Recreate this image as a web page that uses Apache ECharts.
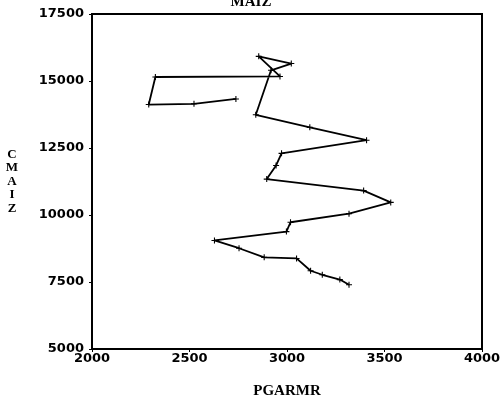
<!DOCTYPE html>
<html>
<head>
<meta charset="utf-8">
<script src="https://cdn.jsdelivr.net/npm/echarts@6/dist/echarts.min.js"></script>
<style>html,body{margin:0;padding:0;background:#fff}#c{width:502px;height:397px}</style>
</head>
<body>
<div id="c"></div>
<script>
const pgarmr = [2738, 2523, 2291, 2325, 2964, 2855, 3022, 2918, 2840, 3117, 3408, 2972, 2944, 2896, 3393, 3532, 3318, 3018, 2997, 2628, 2754, 2883, 3049, 3121, 3181, 3271, 3318];
const cmaiz  = [14330, 14150, 14120, 15150, 15170, 15920, 15650, 15400, 13740, 13270, 12790, 12300, 11850, 11340, 10910, 10470, 10050, 9730, 9380, 9050, 8760, 8420, 8380, 7920, 7770, 7590, 7400];
const xTicks = [2000, 2500, 3000, 3500, 4000];
const yTicks = [5000, 7500, 10000, 12500, 15000, 17500];

const points = pgarmr.map((x, i) => [x, cmaiz[i]]);
const plus = 'path://M-1,-0.18 L1,-0.18 L1,0.18 L-1,0.18 Z M-0.18,-1 L0.18,-1 L0.18,1 L-0.18,1 Z';

const chart = echarts.init(document.getElementById('c'));
chart.setOption({
  animation: false,
  backgroundColor: '#fff',
  title: {
    text: 'MAIZ', left: 'center', top: -10,
    textStyle: { fontFamily: 'Liberation Serif', fontWeight: 'bold', fontSize: 15, color: '#000' }
  },
  grid: { left: 92, right: 20, top: 14, bottom: 48, outerBoundsMode: 'none', containLabel: false, show: true, borderColor: '#000', borderWidth: 2, backgroundColor: 'transparent' },
  xAxis: {
    type: 'value', min: xTicks[0], max: xTicks[xTicks.length - 1], interval: 500,
    name: 'PGARMR', nameLocation: 'middle', nameGap: 35,
    nameTextStyle: { fontFamily: 'Liberation Serif', fontWeight: 'bold', fontSize: 15, color: '#000' },
    axisLine: { lineStyle: { color: '#000', width: 2 } },
    axisTick: { show: true, length: 3, lineStyle: { color: '#000', width: 1 } },
    axisLabel: { color: '#000', fontFamily: 'DejaVu Sans', fontWeight: 'bold', fontSize: 13, margin: 3, formatter: v => String(v) },
    splitLine: { show: false }
  },
  yAxis: {
    type: 'value', min: yTicks[0], max: yTicks[yTicks.length - 1], interval: 2500,
    name: 'C\nM\nA\nI\nZ', nameLocation: 'middle', nameGap: 80, nameRotate: 0,
    nameTextStyle: { fontFamily: 'Liberation Serif', fontWeight: 'bold', fontSize: 13, lineHeight: 13.5, color: '#000', align: 'center', verticalAlign: 'middle' },
    axisLine: { lineStyle: { color: '#000', width: 2 } },
    axisTick: { show: true, length: 3, lineStyle: { color: '#000', width: 1 } },
    axisLabel: { color: '#000', fontFamily: 'DejaVu Sans', fontWeight: 'bold', fontSize: 13, margin: 8, formatter: v => String(v) },
    splitLine: { show: false }
  },
  series: [{
    type: 'line', data: points,
    lineStyle: { color: '#000', width: 1.8 },
    itemStyle: { color: '#000' },
    symbol: plus, symbolSize: 6, showSymbol: true
  }]
});
</script>
</body>
</html>
